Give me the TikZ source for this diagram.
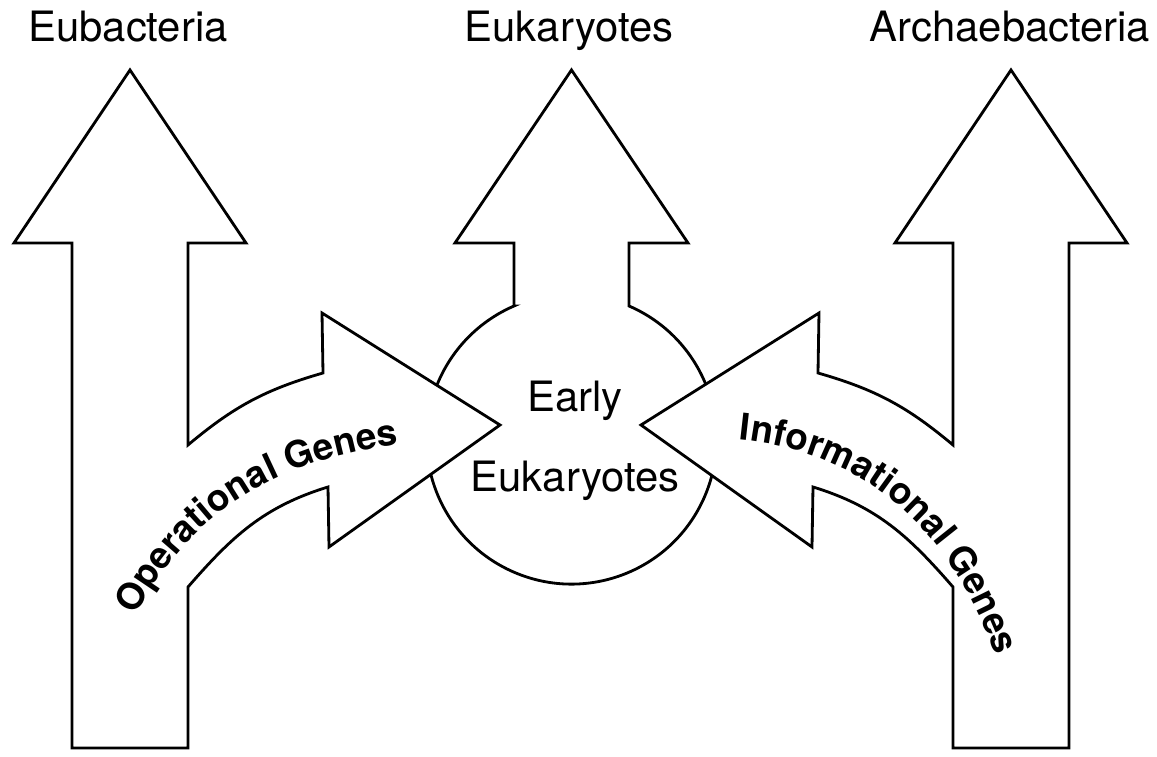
\documentclass[tikz,border=0pt]{standalone}
\usepackage{fontspec}
\setmainfont{TeX Gyre Heros}
\usepackage{tikz}
\usetikzlibrary{decorations.text}
\tikzstyle{kingdom} = [font=\fontsize{23.8}{28}\selectfont, anchor=base, inner sep=0pt]
\tikzstyle{bigarrow} = [draw=black, fill=white, line width=1.6pt, line join=miter]
\tikzstyle{genes} = [decorate]

\begin{document}
\begin{tikzpicture}[x=0.02cm, y=0.02cm]
        \useasboundingbox (0,0) rectangle (1157,757);
        % early eukaryotes growing up into eukaryotes
        \draw [bigarrow] (514,451) -- (514,514) -- (455,514) -- (571.5,687) -- (688,514) -- (629,514) -- (629,451)
            arc[start angle=66.64, end angle=-246.64, radius=145] -- cycle;
        % eubacteria, giving operational genes
        \draw [bigarrow] (72,9) -- (72,514) -- (14,514) -- (130,687) -- (246,514) -- (188,514) -- (188,312)
            to[out=40, in=196] (323,384) -- (322,444) -- (500,332) -- (329,210) -- (328,270)
            to[out=197, in=49] (188,170) -- (188,9) -- cycle;
        % archaebacteria, giving informational genes
        \draw [bigarrow] (1069,9) -- (1069,514) -- (1127,514) -- (1011,687) -- (895,514) -- (953,514) -- (953,312)
            to[out=140, in=-16] (818,384) -- (819,444) -- (641,332) -- (812,210) -- (813,270)
            to[out=-17, in=131] (953,170) -- (953,9) -- cycle;

        \node (eubac) [kingdom] at (128,715) {Eubacteria};
        \node (eukar) [kingdom] at (569,715) {Eukaryotes};
        \node (archae) [kingdom] at (1010,715) {Archaebacteria};
        \node (early) [kingdom] at (575,345) {Early};
        \node (earlyeuk) [kingdom] at (575,265) {Eukaryotes};

        \path [genes, decoration={text along path, text align=center,
            text={|\fontsize{21}{25}\selectfont\bfseries|Operational Genes}}]
            (135,140) to[out=62, in=188] (400,313);
        \path [genes, decoration={text along path, text align=center,
            text={|\fontsize{21}{25}\selectfont\bfseries|Informational Genes}}]
            (741,317) to[out=-6, in=110] (995,103);
    \end{tikzpicture}
\end{document}
